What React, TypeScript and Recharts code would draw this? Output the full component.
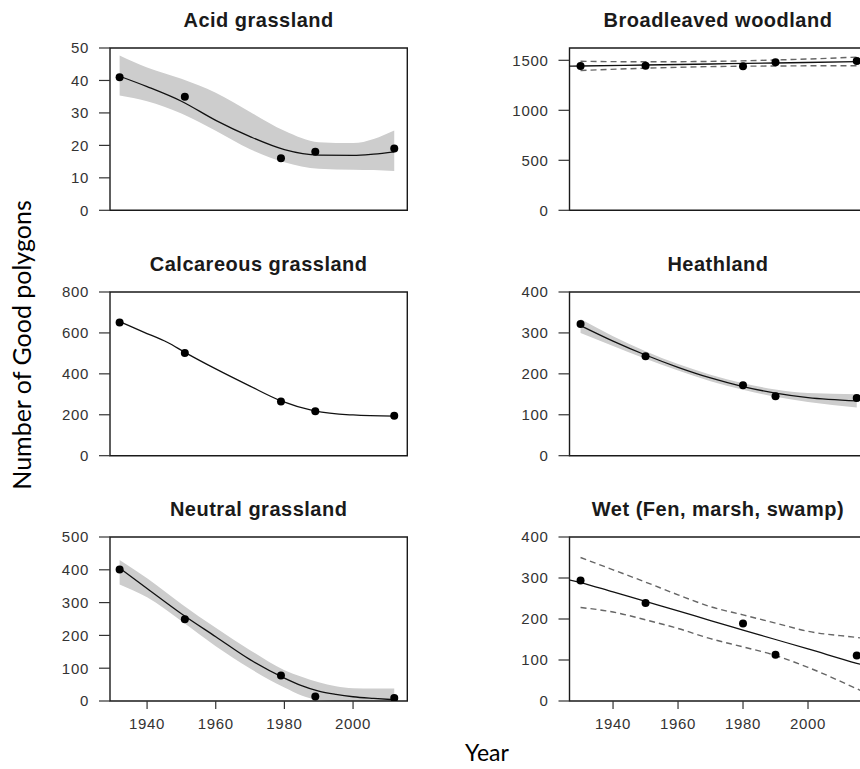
import React from 'react';
import { ComposedChart, Line, Area, Scatter, XAxis, YAxis, ReferenceArea } from 'recharts';

// ---------- data ----------
const leftObsYears = [1932, 1951, 1979, 1989, 2012];
const rightObsYears = [1930, 1950, 1980, 1990, 2015];
const xTickYears = [1940, 1960, 1980, 2000];

// Acid grassland
const acidObs = [41, 35, 16, 18, 19];
const acidYears = [1932, 1940, 1950, 1960, 1970, 1980, 1990, 2000, 2006, 2012];
const acidFit = [41.3, 38.1, 33.6, 27.7, 22.7, 18.7, 17.0, 16.9, 17.3, 18.0];
const acidLo = [35.4, 33.6, 29.8, 24.5, 18.8, 14.8, 12.8, 12.5, 12.4, 12.1];
const acidHi = [47.7, 44.0, 40.5, 36.2, 30.3, 24.5, 21.0, 20.7, 22.0, 24.6];
const acidTicks = [0, 10, 20, 30, 40, 50];

// Calcareous grassland
const calcObs = [651, 502, 265, 217, 195];
const calcYears = [1932, 1939, 1946, 1951, 1960, 1970, 1979, 1989, 2000, 2012];
const calcFit = [655, 604, 553, 505, 424, 340, 268, 218, 199, 193];
const calcTicks = [0, 200, 400, 600, 800];

// Neutral grassland
const neutralObs = [401, 249, 78, 14, 9];
const neutralYears = [1932, 1940, 1950, 1960, 1970, 1980, 1985, 1990, 1995, 2000, 2006, 2012];
const neutralFit = [405, 343, 266, 196, 126, 70, 47, 30, 20, 13, 8, 4];
const neutralHi = [430, 374, 296, 223, 155, 94, 74, 57, 45, 39, 38, 38];
const neutralLo = [355, 316, 244, 167, 99, 41, 17, 3, 0, 0, 0, 0];
const neutralTicks = [0, 100, 200, 300, 400, 500];

// Broadleaved woodland
const broadObs = [1443, 1445, 1440, 1480, 1493];
const broadYears = [1925, 1930, 1950, 1970, 1990, 2015, 2020];
const broadFit = [1441, 1443, 1453, 1463, 1473, 1486, 1488];
const broadHi = [null, 1490, 1485, 1489, 1503, 1532, 1540];
const broadLo = [null, 1398, 1421, 1437, 1443, 1446, 1445];
const broadTicks = [0, 500, 1000, 1500];

// Heathland
const heathObs = [322, 243, 172, 145, 141];
const heathYears = [1930, 1940, 1950, 1960, 1970, 1980, 1990, 2000, 2015];
const heathFit = [318, 280, 246, 216, 190, 169, 153, 142, 134];
const heathHi = [334, 292, 255, 224, 198, 177, 162, 153, 150];
const heathLo = [300, 268, 237, 208, 182, 161, 144, 131, 118];
const heathTicks = [0, 100, 200, 300, 400];

// Wet (Fen, marsh, swamp)
const wetObs = [294, 239, 189, 113, 111];
const wetYears = [1925, 1930, 1940, 1950, 1960, 1970, 1980, 1990, 2000, 2015, 2020];
const wetFit = [298, 289, 266, 243, 220, 196, 173, 150, 127, 92, 81];
const wetHi = [null, 350, 320, 290, 259, 230, 210, 190, 170, 155, 150];
const wetLo = [null, 228, 217, 198, 177, 152, 132, 111, 82, 30, 12];
const wetTicks = [0, 100, 200, 300, 400];

// ---------- helpers ----------
type Row = { year: number; fit: number | null; lo?: number | null; hi?: number | null; band?: [number, number] };

function buildRows(years: number[], fit: (number | null)[], lo?: (number | null)[], hi?: (number | null)[]): Row[] {
  return years.map((y, i) => {
    const r: Row = { year: y, fit: fit[i] };
    if (lo && hi) {
      r.lo = lo[i];
      r.hi = hi[i];
      if (lo[i] != null && hi[i] != null) r.band = [lo[i] as number, hi[i] as number];
    }
    return r;
  });
}

function buildObs(years: number[], vals: number[]) {
  return years.map((y, i) => ({ year: y, v: vals[i] }));
}

const FONT = '"Liberation Sans", Arial, Helvetica, sans-serif';

const Dot = (p: any) => <circle cx={p.cx} cy={p.cy} r={4} fill="#000" />;

type PanelProps = {
  title: string;
  col: 'left' | 'right';
  y0: number;
  y1: number;
  showX: boolean;
  yDomain: [number, number];
  yTicks: number[];
  rows: Row[];
  obs: { year: number; v: number }[];
  mode: 'band' | 'dashed' | 'none';
};

function Panel({ title, col, y0, y1, showX, yDomain, yTicks, rows, obs, mode }: PanelProps) {
  const isLeft = col === 'left';
  const chartLeft = isLeft ? 0 : 430;
  const W = isLeft ? 430 : 445;
  const plotLeft = isLeft ? 110 : 139.5;
  const plotRight = isLeft ? 407.3 : 436.5;
  const xDomain: [number, number] = isLeft ? [1929.2, 2015.8] : [1926.6, 2018];
  const T = y0 - 48;
  const plotTop = 48;
  const plotBottom = y1 - T;
  const xAxisH = 50;
  const H = showX ? plotBottom + xAxisH : plotBottom + 14;
  const tickStyle = { fontSize: 15, fill: '#333', fontFamily: FONT, letterSpacing: 0.7 };

  return (
    <div style={{ position: 'absolute', left: chartLeft, top: T, width: W, height: H }}>
      <ComposedChart
        width={W}
        height={H}
        data={rows}
        margin={{ top: plotTop, left: 0, right: W - plotRight, bottom: showX ? 0 : H - plotBottom }}
      >
        <XAxis
          dataKey="year"
          type="number"
          domain={xDomain}
          allowDataOverflow
          ticks={xTickYears}
          hide={!showX}
          height={xAxisH}
          axisLine={false}
          tickLine={{ stroke: '#333', strokeWidth: 1.2 }}
          tickSize={8}
          tickMargin={9}
          tick={tickStyle}
          interval={0}
        />
        <YAxis
          type="number"
          domain={yDomain}
          allowDataOverflow
          ticks={yTicks}
          width={plotLeft}
          axisLine={false}
          tickLine={{ stroke: '#333', strokeWidth: 1.2 }}
          tickSize={11}
          tickMargin={10}
          tick={tickStyle}
          interval={0}
        />
        {mode === 'band' && (
          <Area
            dataKey="band"
            type="monotone"
            stroke="none"
            fill="#cdcdcd"
            fillOpacity={1}
            isAnimationActive={false}
            activeDot={false}
          />
        )}
        {mode === 'dashed' && (
          <Line
            dataKey="hi"
            type="monotone"
            stroke="#666"
            strokeWidth={1.4}
            strokeDasharray="6 4"
            dot={false}
            activeDot={false}
            isAnimationActive={false}
          />
        )}
        {mode === 'dashed' && (
          <Line
            dataKey="lo"
            type="monotone"
            stroke="#666"
            strokeWidth={1.4}
            strokeDasharray="6 4"
            dot={false}
            activeDot={false}
            isAnimationActive={false}
          />
        )}
        <Line
          dataKey="fit"
          type="monotone"
          stroke="#111"
          strokeWidth={1.3}
          dot={false}
          activeDot={false}
          isAnimationActive={false}
        />
        <ReferenceArea
          x1={xDomain[0]}
          x2={xDomain[1]}
          y1={yDomain[0]}
          y2={yDomain[1]}
          fill="none"
          fillOpacity={0}
          stroke="#1a1a1a"
          strokeWidth={1.4}
          ifOverflow="visible"
        />
        <Scatter data={obs} dataKey="v" shape={Dot} isAnimationActive={false} />
        <text
          x={(plotLeft + plotRight) / 2}
          y={plotTop - 21}
          textAnchor="middle"
          fontFamily={FONT}
          fontWeight="bold"
          fontSize={20}
          letterSpacing={0.5}
          fill="#1a1a1a"
        >
          {title}
        </text>
      </ComposedChart>
    </div>
  );
}

export default function App() {
  return (
    <div
      style={{
        position: 'fixed',
        left: 0,
        top: 0,
        width: 860,
        height: 769,
        overflow: 'hidden',
        background: '#fff',
      }}
    >
      <Panel
        title="Acid grassland"
        col="left"
        y0={47.7}
        y1={210}
        showX={false}
        yDomain={[0, 50]}
        yTicks={acidTicks}
        rows={buildRows(acidYears, acidFit, acidLo, acidHi)}
        obs={buildObs(leftObsYears, acidObs)}
        mode="band"
      />
      <Panel
        title="Calcareous grassland"
        col="left"
        y0={292.3}
        y1={456}
        showX={false}
        yDomain={[0, 800]}
        yTicks={calcTicks}
        rows={buildRows(calcYears, calcFit)}
        obs={buildObs(leftObsYears, calcObs)}
        mode="none"
      />
      <Panel
        title="Neutral grassland"
        col="left"
        y0={536.7}
        y1={700.7}
        showX={true}
        yDomain={[0, 500]}
        yTicks={neutralTicks}
        rows={buildRows(neutralYears, neutralFit, neutralLo, neutralHi)}
        obs={buildObs(leftObsYears, neutralObs)}
        mode="band"
      />
      <Panel
        title="Broadleaved woodland"
        col="right"
        y0={47.7}
        y1={210}
        showX={false}
        yDomain={[0, 1623]}
        yTicks={broadTicks}
        rows={buildRows(broadYears, broadFit, broadLo, broadHi)}
        obs={buildObs(rightObsYears, broadObs)}
        mode="dashed"
      />
      <Panel
        title="Heathland"
        col="right"
        y0={292.3}
        y1={456}
        showX={false}
        yDomain={[0, 400]}
        yTicks={heathTicks}
        rows={buildRows(heathYears, heathFit, heathLo, heathHi)}
        obs={buildObs(rightObsYears, heathObs)}
        mode="band"
      />
      <Panel
        title="Wet (Fen, marsh, swamp)"
        col="right"
        y0={536.7}
        y1={700.7}
        showX={true}
        yDomain={[0, 400]}
        yTicks={wetTicks}
        rows={buildRows(wetYears, wetFit, wetLo, wetHi)}
        obs={buildObs(rightObsYears, wetObs)}
        mode="dashed"
      />
      <svg
        width={860}
        height={769}
        style={{ position: 'absolute', left: 0, top: 0, pointerEvents: 'none' }}
      >
        <text
          transform="translate(31,345) rotate(-90)"
          textAnchor="middle"
          fontFamily="Lato, 'Open Sans', sans-serif"
          fontSize={25}
          fill="#000"
        >
          Number of Good polygons
        </text>
        <text x={487} y={761} textAnchor="middle" fontFamily="Lato, 'Open Sans', sans-serif" fontSize={23} fill="#000">
          Year
        </text>
      </svg>
    </div>
  );
}
